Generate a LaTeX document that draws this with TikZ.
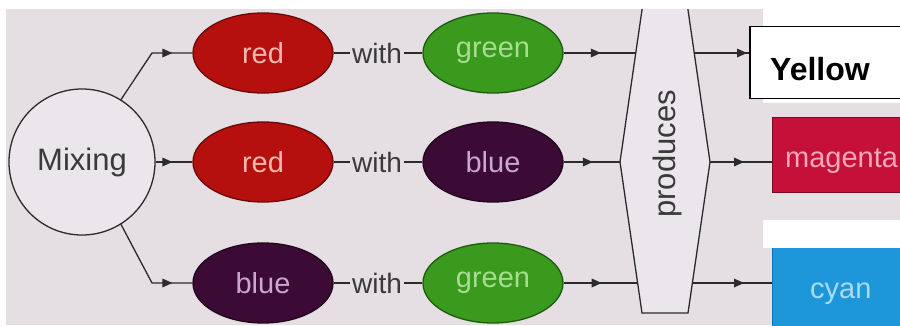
\documentclass[tikz,border=0pt]{standalone}
\usepackage{fontspec}
\setmainfont{Liberation Sans}
\usetikzlibrary{shapes.geometric,decorations.markings,arrows.meta}
\definecolor{bgc}{HTML}{E5DEE3}
\definecolor{circf}{HTML}{EAE6EB}
\definecolor{linec}{HTML}{2B2B2B}
\definecolor{txtc}{HTML}{3A3A3A}
\definecolor{redF}{HTML}{B5100E}
\definecolor{redD}{HTML}{6A0808}
\definecolor{redT}{HTML}{F4B8B0}
\definecolor{grnF}{HTML}{3A9A1E}
\definecolor{grnD}{HTML}{1E5A10}
\definecolor{grnT}{HTML}{A8DC90}
\definecolor{bluF}{HTML}{3C0B35}
\definecolor{bluD}{HTML}{20051C}
\definecolor{bluT}{HTML}{C8A8D0}
\definecolor{magF}{HTML}{C5103A}
\definecolor{magD}{HTML}{7A0A20}
\definecolor{magT}{HTML}{F4A8B8}
\definecolor{cyaF}{HTML}{1D97DA}
\definecolor{cyaD}{HTML}{1070A8}
\definecolor{cyaT}{HTML}{A8DCF4}
\begin{document}
\begin{tikzpicture}[x=1pt,y=1pt,
  conn/.style={draw=linec, line width=1.3pt},
  marr/.style={postaction={decorate},
    decoration={markings, mark=at position #1 with {\fill[linec] (-9pt,-4.5pt) -- (1pt,0pt) -- (-9pt,4.5pt) -- cycle;}}},
  ell/.style={ellipse, minimum width=140pt, minimum height=80pt, inner sep=0pt,
    line width=1.3pt, font=\fontsize{29}{34}\selectfont},
  redell/.style={ell, fill=redF, draw=redD, text=redT},
  grnell/.style={ell, fill=grnF, draw=grnD, text=grnT},
  bluell/.style={ell, fill=bluF, draw=bluD, text=bluT},
  withlbl/.style={inner sep=2pt, text=txtc, font=\fontsize{28}{32}\selectfont},
  bigtxt/.style={font=\fontsize{29}{34}\selectfont},
  outbox/.style={rectangle, inner sep=0pt, line width=1.3pt},
]
\useasboundingbox (0,0) rectangle (900,325);
\clip (0,0) rectangle (900,325);
\fill[bgc] (0,0) rectangle (900,325);

% Mixing circle
\node[circle, draw=linec, line width=1.3pt, fill=circf, minimum size=146pt, inner sep=0pt,
  text=txtc, font=\fontsize{31}{36}\selectfont] (mix) at (82,163) {Mixing};

% first column
\node[redell] (r1) at (263,272) {red};
\node[redell] (r2) at (263,163) {red};
\node[bluell] (b3) at (263,42) {blue};

% with labels
\node[withlbl] (w1) at (377,272) {with};
\node[withlbl] (w2) at (377,163) {with};
\node[withlbl] (w3) at (377,42) {with};

% second column
\node[grnell] (g1) at (493,272) {green};
\node[bluell] (b2) at (493,163) {blue};
\node[grnell] (g3) at (493,42) {green};

% produces hexagon
\draw[conn, fill=circf] (643,322) -- (620,163) -- (642,12) -- (688,12) -- (710,163) -- (687,322) -- cycle;
\node[rotate=90, text=txtc, font=\fontsize{31}{36}\selectfont] (prod) at (667,171) {produces};
\coordinate (hin1) at (636,272);
\coordinate (hin2) at (620,163);
\coordinate (hin3) at (637.6,42);
\coordinate (hout1) at (694,272);
\coordinate (hout2) at (710,163);
\coordinate (hout3) at (692.4,42);

% output boxes
\node[outbox, fill=magF, draw=magD, minimum width=140pt, minimum height=75pt, anchor=south west] (mag) at (772,132) {};
\node[anchor=base west, text=magT, bigtxt, inner sep=0pt] (magt) at (785,158) {magenta};
\node[outbox, fill=cyaF, draw=cyaD, minimum width=140pt, minimum height=82pt, anchor=south west] (cy) at (772,-5) {};
\node[anchor=base west, text=cyaT, bigtxt, inner sep=0pt] (cyt) at (810,27) {cyan};

% connectors
\coordinate (k1) at (152,272);
\coordinate (k3) at (152,42);
\draw[conn, marr=-21pt] (mix.58) -- (k1) -- (r1.west);
\draw[conn, marr=-21pt] (mix.east) -- (r2.west);
\draw[conn, marr=-21pt] (mix.-58) -- (k3) -- (b3.west);

\draw[conn] (r1.east) -- (w1.west);
\draw[conn] (w1.east) -- (g1.west);
\draw[conn] (r2.east) -- (w2.west);
\draw[conn] (w2.east) -- (b2.west);
\draw[conn] (b3.east) -- (w3.west);
\draw[conn] (w3.east) -- (g3.west);

\draw[conn, marr=0.5] (g1.east) -- (hin1);
\draw[conn, marr=0.5] (b2.east) -- (hin2);
\draw[conn, marr=0.5] (g3.east) -- (hin3);

% white patches of the scan
\fill[white] (0,316) rectangle (900,325);
\fill[white] (0,0) rectangle (6,325);
\fill[white] (763,222) rectangle (900,325);
\fill[white] (763,77) rectangle (900,105);

% yellow box
\node[outbox, fill=white, draw=black, line width=1.5pt, minimum width=161pt, minimum height=72pt, anchor=south west] (yel) at (749,226) {};
\node[anchor=base west, inner sep=0pt, font=\fontsize{32}{36}\selectfont\bfseries] (yelt) at (770,245) {Yellow};

\draw[conn, marr=-3pt] (hout1) -- (hout1 -| yel.west);
\draw[conn, marr=-29pt] (hout2) -- (hout2 -| mag.west);
\draw[conn, marr=-29pt] (hout3) -- (hout3 -| cy.west);
\end{tikzpicture}
\end{document}
